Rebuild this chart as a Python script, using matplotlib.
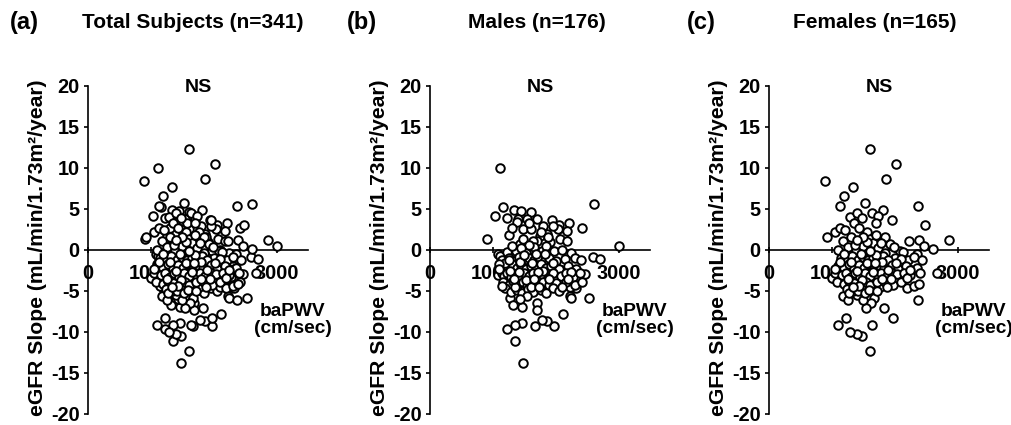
import matplotlib
matplotlib.use("Agg")
import matplotlib.pyplot as plt

plt.rcParams['font.family'] = ['Liberation Sans', 'DejaVu Sans']
plt.rcParams['font.weight'] = 'bold'
plt.rcParams['axes.unicode_minus'] = False

# baPWV (cm/sec), eGFR slope
males_pts = [
    (1110, 10.0), (2610, 5.6), (1165, 5.2), (1035, 4.1), (1220, 3.9), (1340, 4.8),
    (1450, 4.7), (1605, 4.6), (1400, 3.7), (1540, 3.7), (1710, 3.7), (1935, 3.6),
    (2055, 3.0), (2215, 3.2), (2420, 2.6), (910, 1.3), (1260, 1.8), (1485, 2.5),
    (1605, 2.5), (1800, 2.9), (1855, 1.9), (2040, 2.5), (2120, 1.7), (2175, 2.3),
    (2065, 1.3), (2175, 1.1), (3010, 0.4), (1325, 0.1), (1430, 0.7), (1590, 0.1),
    (1750, 1.7), (1695, 1.0), (1485, 1.3), (1645, 1.1), (1910, 0.9), (1380, 3.4),
    (1580, 3.2), (1760, 2.2), (1950, 2.9), (1300, 2.6),
    (2595, -0.9), (2700, -1.1), (2465, -3.0), (2535, -5.9), (2225, -5.6), (2250, -5.9),
    (2330, -4.7), (2360, -3.8), (2225, -4.5), (2120, -7.9), (1970, -9.3), (1865, -8.7),
    (1775, -8.6), (1670, -9.3), (1460, -8.9), (1350, -9.2), (1220, -9.7), (1350, -11.2),
    (1475, -13.8), (1270, -5.9), (1325, -6.7), (1460, -7.0), (1695, -6.5), (1695, -7.4),
    (1085, -0.5), (1110, -0.8), (1085, -3.1), (1140, -2.9),
    (1230, -0.3), (1370, -0.2), (1520, -0.4), (1650, 0.3), (1780, -0.1), (1850, 0.4),
    (1980, -0.2), (2100, 0.0), (2250, -0.4), (1300, 0.5),
    (1150, -1.2), (1260, -1.0), (1340, -1.4), (1420, -0.9), (1500, -1.2), (1580, -1.0),
    (1660, -1.3), (1740, -0.9), (1830, -1.2), (1900, -1.0), (2000, -1.4), (2150, -1.1),
    (2300, -1.0), (2400, -1.3),
    (1180, -2.0), (1240, -2.3), (1310, -1.8), (1380, -2.2), (1450, -1.9), (1520, -2.4),
    (1600, -2.0), (1680, -2.3), (1760, -1.8), (1850, -2.2), (1920, -2.0), (2050, -2.4),
    (2200, -2.0), (2320, -2.3),
    (1170, -3.2), (1230, -2.8), (1290, -3.3), (1360, -3.0), (1430, -3.4), (1500, -2.9),
    (1570, -3.2), (1640, -2.8), (1720, -3.3), (1790, -3.0), (1880, -3.4), (1960, -2.9),
    (2080, -3.2), (2160, -2.8), (2280, -3.3), (2390, -2.9),
    (1160, -4.0), (1250, -4.3), (1320, -3.8), (1400, -4.2), (1480, -4.0), (1550, -4.4),
    (1620, -3.9), (1700, -4.2), (1800, -3.9), (1900, -4.3), (2010, -4.1), (2170, -4.0),
    (2300, -4.3),
    (1200, -4.7), (1290, -5.2), (1380, -4.9), (1470, -5.3), (1560, -4.8), (1640, -5.2),
    (1760, -4.9), (1850, -5.3), (1950, -4.7), (2050, -5.0),
    (1200, -1.6), (1440, -1.5), (1620, -1.6), (1800, -2.6), (1270, -2.6), (1530, -3.7),
    (1720, -2.7), (1350, -4.5), (1600, -4.6), (1100, -1.8), (1100, -2.4), (1580, 0.6),
    (1450, 0.2), (1900, -3.6), (2100, -4.6), (1680, -0.5), (1420, -2.7), (1650, -3.6),
    (1830, -0.5), (2250, -2.7), (1950, -1.6), (2200, -3.6), (1330, -3.6), (1250, -1.3),
    (1500, -0.6), (1740, -4.6), (1540, -5.6), (1440, -6.0),
    (2420, -4.0), (1880, 1.6), (1150, -4.4),
]

females_pts = [
    (1606, 12.3), (2014, 10.5), (1855, 8.6), (890, 8.4), (1330, 7.7), (1192, 6.5),
    (1129, 5.3), (1526, 5.7), (2364, 5.3), (1288, 4.0), (1394, 4.5), (1632, 4.5),
    (1818, 4.8), (1738, 4.1), (1950, 3.6), (2480, 3.0), (917, 1.6), (1049, 2.1),
    (1129, 2.7), (1209, 2.4), (2231, 1.1), (2390, 1.2), (2460, 0.5), (2603, 0.1),
    (2867, 1.2), (2348, -0.5), (2666, -2.8), (2189, -4.7), (2300, -4.4), (2390, -4.2),
    (2364, -6.1), (1966, -8.3), (1829, -7.1), (1670, -5.9), (1622, -6.5), (1537, -7.1),
    (1632, -9.2), (1606, -12.4), (1473, -10.5), (1394, -10.3), (1288, -10.0), (1224, -8.3),
    (1103, -9.2), (1182, -5.6), (1262, -6.1), (1404, -5.5), (1023, -3.4), (1129, -2.6),
    (997, -3.5), (1050, -2.9), (1924, 0.7), (2215, -1.2), (1360, 3.3), (1480, 3.9),
    (1560, 2.1), (1700, 3.3), (1440, 2.6), (1300, 1.6), (1180, 1.0), (1600, 1.3),
    (1660, 0.8), (1840, 1.6), (2080, -0.2), (2000, -1.0), (1458, -4.6), (1760, -4.5),
    (1650, -4.5), (1690, -3.5), (1500, -6.1), (1330, -5.0),
    (1250, 0.3), (1380, -0.1), (1500, 0.4), (1620, -0.3), (1740, 0.2), (1850, -0.4),
    (1990, 0.3), (2130, -0.3), (1100, 0.0),
    (1150, -1.0), (1240, -1.3), (1320, -0.8), (1410, -1.2), (1490, -0.9), (1570, -1.3),
    (1650, -1.0), (1730, -1.2), (1810, -0.8), (1900, -1.3), (2100, -1.1), (2300, -0.9),
    (2430, -1.2),
    (1100, -2.0), (1190, -2.2), (1270, -1.8), (1350, -2.3), (1430, -1.9), (1510, -2.2),
    (1590, -1.8), (1670, -2.3), (1750, -1.9), (1830, -2.2), (1950, -1.9), (2060, -2.3),
    (2180, -2.0), (2350, -2.2),
    (1160, -3.1), (1230, -2.8), (1300, -3.3), (1370, -2.9), (1450, -3.3), (1530, -2.8),
    (1610, -3.2), (1780, -2.9), (1870, -3.2), (1960, -2.9), (2040, -3.0), (2150, -2.8),
    (2250, -3.1), (2400, -2.9),
    (1090, -3.9), (1200, -4.2), (1280, -3.8), (1360, -4.1), (1540, -3.9), (1600, -4.3),
    (1720, -3.9), (1850, -4.0), (1980, -4.3), (2100, -3.9),
    (1240, -4.8), (1420, -5.0), (1530, -5.3), (1590, -4.9), (1720, -5.1), (1280, -5.3),
    (1200, -0.5), (1460, -0.5), (1700, -0.6), (1300, -1.5), (1560, -1.6), (1800, -1.5),
    (1400, -2.6), (1650, -2.7), (1900, -2.5), (1250, -3.6), (1480, -3.7), (1800, -3.6),
    (2200, -3.5), (2020, -1.6), (1130, -1.5), (1050, -2.4), (1370, 0.6), (1560, 0.9),
    (1780, 0.8), (2250, -2.5), (1940, -3.6), (1680, -1.6), (1440, -4.4), (1340, -4.6),
    (1600, -0.2), (1500, 1.6), (1700, 1.8), (1400, 1.2), (1880, -4.6),
]

total_pts = males_pts + females_pts

panel_letters = ['(a)', '(b)', '(c)']
panel_titles = ['Total Subjects (n=341)', 'Males (n=176)', 'Females (n=165)']
panel_data = [total_pts, males_pts, females_pts]
x_ticks = [0, 1000, 2000, 3000]
y_ticks = [-20, -15, -10, -5, 0, 5, 10, 15, 20]

fig = plt.figure(figsize=(10.11, 4.25), dpi=100)
lefts = [0.087, 0.4253, 0.7606]
letter_x = [0.010, 0.343, 0.6795]
title_x = [0.191, 0.531, 0.8655]

for i in range(3):
    ax = fig.add_axes([lefts[i], 0.027, 0.2176, 0.771])
    pts = panel_data[i]
    xs = [p[0] for p in pts]
    ys = [p[1] for p in pts]
    ax.scatter(xs, ys, s=38, facecolors='white', edgecolors='black',
               linewidths=1.4, zorder=3)

    ax.set_xlim(0, 3500)
    ax.set_ylim(-20, 20)
    ax.set_xticks(x_ticks)
    ax.set_yticks(y_ticks)
    ax.spines['top'].set_visible(False)
    ax.spines['right'].set_visible(False)
    ax.spines['bottom'].set_position(('data', 0))
    for sp in ['left', 'bottom']:
        ax.spines[sp].set_linewidth(1.2)
    ax.tick_params(axis='x', direction='inout', length=5, width=1.2,
                   pad=8, labelsize=14.3)
    ax.tick_params(axis='y', direction='out', length=3, width=1.2,
                   pad=3, labelsize=14.3)
    for lab in ax.get_xticklabels() + ax.get_yticklabels():
        lab.set_fontweight('bold')

    ax.set_ylabel('eGFR Slope (mL/min/1.73m²/year)', fontsize=15.2, fontweight='bold')
    ax.yaxis.set_label_coords(-0.185, 0.505)

    ax.text(0.5, 0.995, 'NS', transform=ax.transAxes, ha='center', va='center',
            fontsize=14, fontweight='bold')
    ax.text(0.93, 0.285, 'baPWV\n(cm/sec)', transform=ax.transAxes, ha='center',
            va='center', fontsize=13.8, fontweight='bold', linespacing=1.05,
            clip_on=False)

    fig.text(letter_x[i], 0.948, panel_letters[i], ha='left', va='center',
             fontsize=17, fontweight='bold')
    fig.text(title_x[i], 0.948, panel_titles[i], ha='center', va='center',
             fontsize=15, fontweight='bold')

fig.savefig('out.png', dpi=100)
